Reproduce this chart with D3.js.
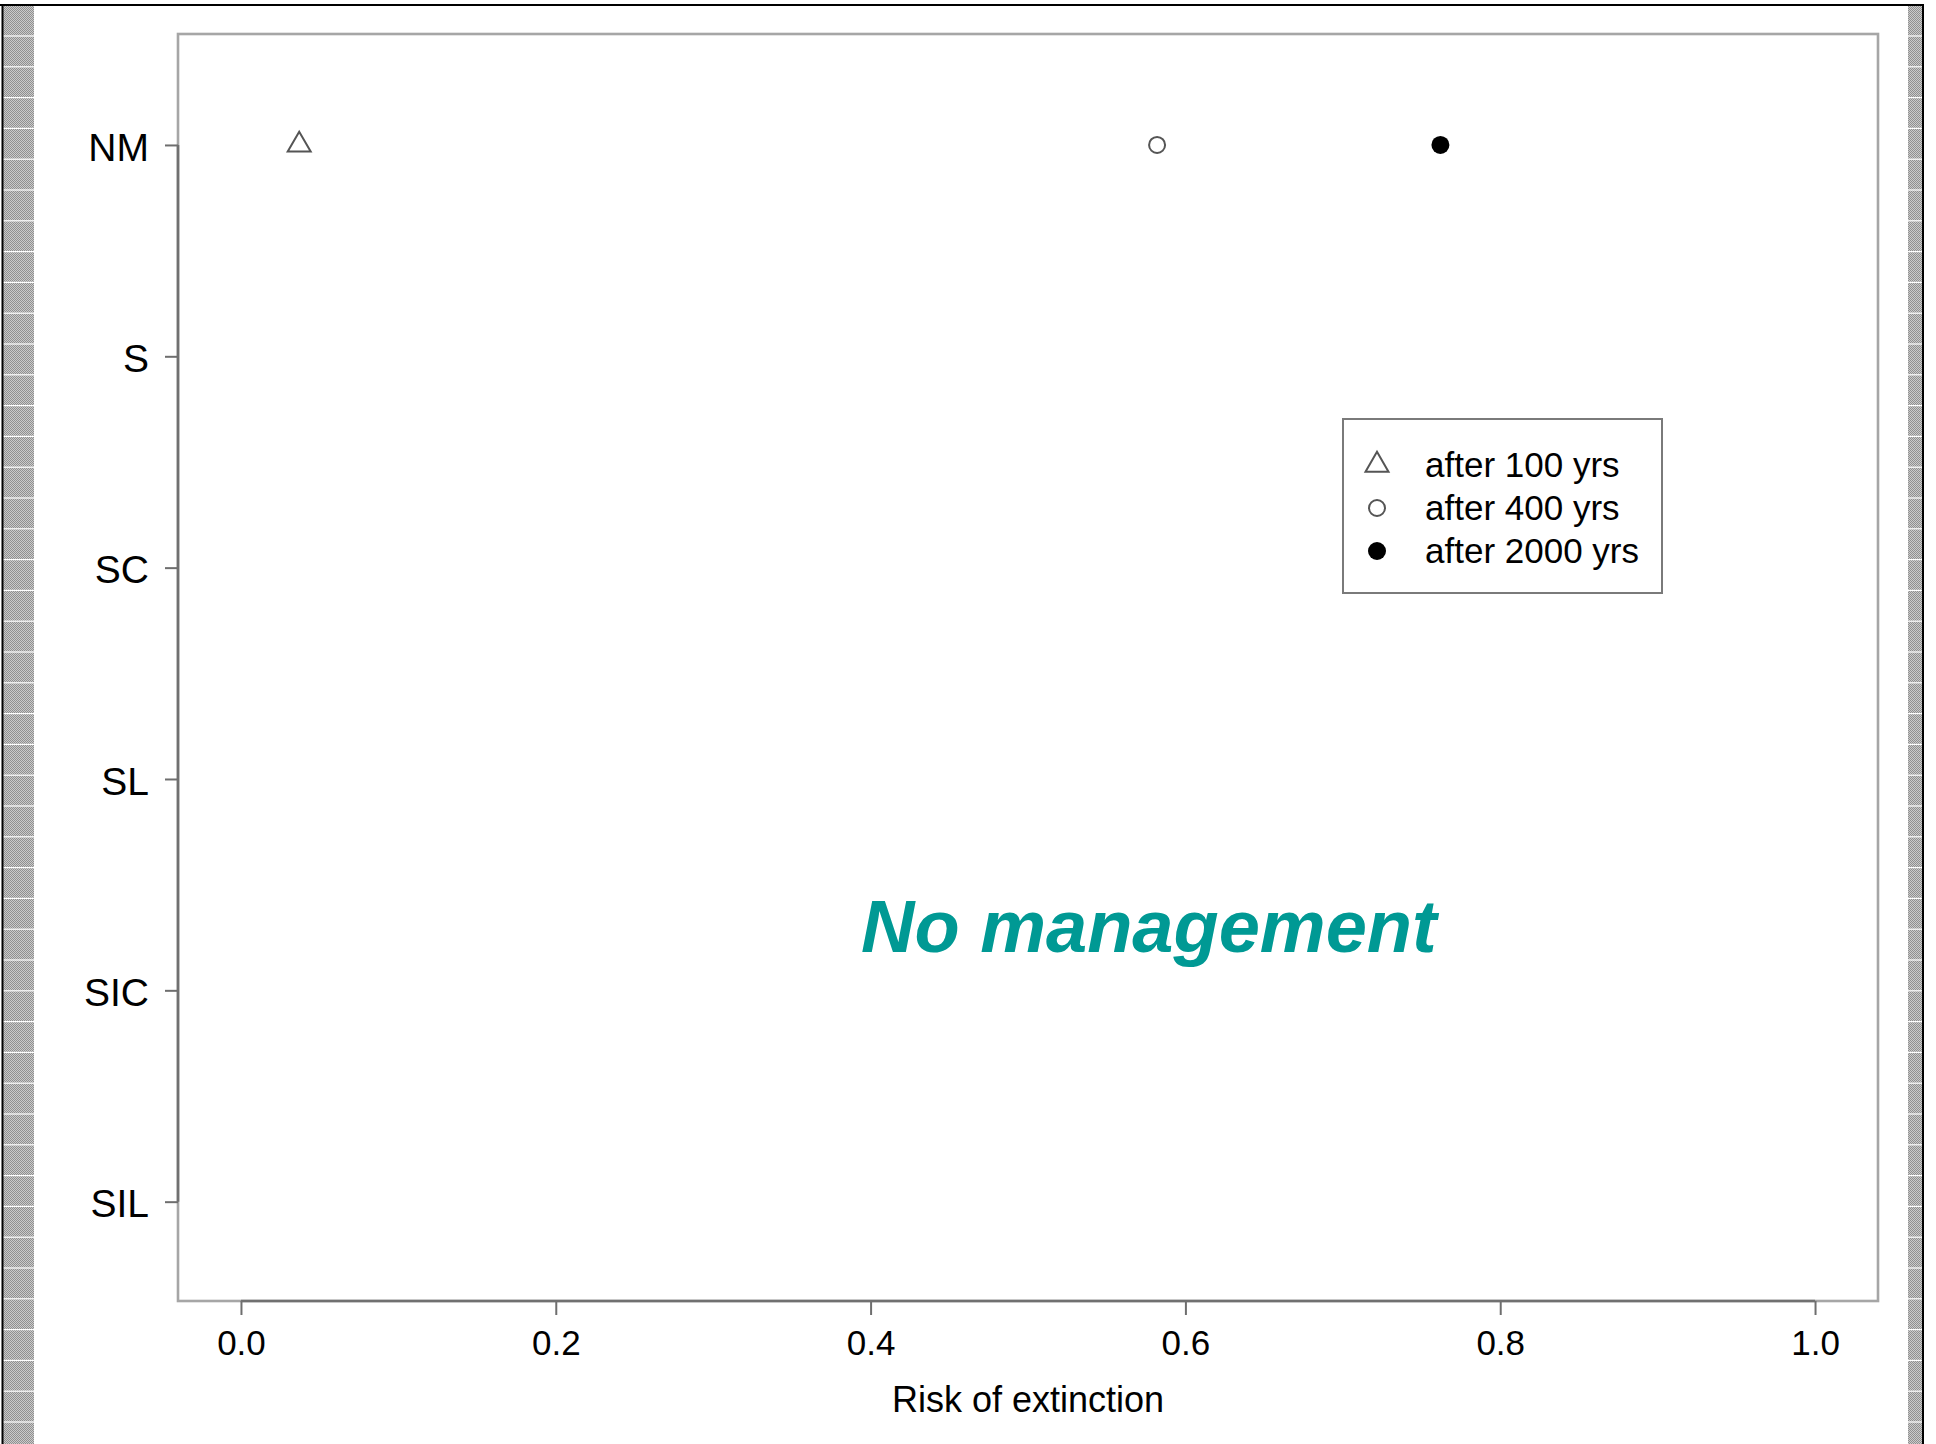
<!DOCTYPE html>
<html>
<head>
<meta charset="utf-8">
<script src="https://cdn.jsdelivr.net/npm/d3@7"></script>
<style>
  html, body { margin: 0; padding: 0; background: #ffffff; }
  svg { display: block; }
  text { font-family: "Liberation Sans", Arial, Helvetica, sans-serif; }
</style>
</head>
<body>
<script>
// ---- data ----
const categories = ["NM", "S", "SC", "SL", "SIC", "SIL"];
const after100  = [0.037, null, null, null, null, null];
const after400  = [0.582, null, null, null, null, null];
const after2000 = [0.762, null, null, null, null, null];
const xTicks = [0, 0.2, 0.4, 0.6, 0.8, 1.0];
const legendLabels = ["after 100 yrs", "after 400 yrs", "after 2000 yrs"];
const titleText = "No management";
const xLabel = "Risk of extinction";

// ---- layout ----
const W = 1936, H = 1444;
const plot = { left: 178, right: 1878, top: 34, bottom: 1301 };

const svg = d3.select("body").append("svg").attr("width", W).attr("height", H);

// slide frame / side stripes
const defs = svg.append("defs");
const pat = defs.append("pattern").attr("id", "dots").attr("width", 2).attr("height", 2)
  .attr("patternUnits", "userSpaceOnUse");
pat.append("rect").attr("width", 2).attr("height", 2).attr("fill", "#cacaca");
pat.append("rect").attr("width", 1).attr("height", 1).attr("fill", "#909090");
pat.append("rect").attr("x", 1).attr("y", 1).attr("width", 1).attr("height", 1).attr("fill", "#909090");

const frame = svg.append("g");
frame.append("rect").attr("x", 3).attr("y", 6).attr("width", 31).attr("height", H - 6).attr("fill", "url(#dots)");
frame.append("rect").attr("x", 1908).attr("y", 6).attr("width", 14).attr("height", H - 6).attr("fill", "url(#dots)");
const stripeLines = d3.range(36, H, 30.8);
frame.selectAll("line.sl").data(stripeLines).join("line")
  .attr("x1", 3).attr("x2", 34).attr("y1", d => d).attr("y2", d => d)
  .attr("stroke", "#ffffff").attr("stroke-width", 1.2);
frame.selectAll("line.sr").data(stripeLines).join("line")
  .attr("x1", 1908).attr("x2", 1922).attr("y1", d => d).attr("y2", d => d)
  .attr("stroke", "#ffffff").attr("stroke-width", 1.2);
frame.append("line").attr("x1", 0).attr("x2", 1924).attr("y1", 5).attr("y2", 5)
  .attr("stroke", "#000").attr("stroke-width", 2);
frame.append("line").attr("x1", 2.5).attr("x2", 2.5).attr("y1", 4).attr("y2", H)
  .attr("stroke", "#000").attr("stroke-width", 2);
frame.append("line").attr("x1", 1923).attr("x2", 1923).attr("y1", 4).attr("y2", H)
  .attr("stroke", "#000").attr("stroke-width", 2);

// ---- scales ----
const x = d3.scaleLinear().domain([-0.04, 1.04]).range([plot.left, plot.right]);
const y = d3.scaleLinear().domain([-0.525, 5.47]).range([plot.top, plot.bottom]);

// plot box
svg.append("rect")
  .attr("x", plot.left).attr("y", plot.top)
  .attr("width", plot.right - plot.left).attr("height", plot.bottom - plot.top)
  .attr("fill", "none").attr("stroke", "#a6a6a6").attr("stroke-width", 2.6);

// x axis
const xAxis = svg.append("g").attr("transform", `translate(0,${plot.bottom})`)
  .call(d3.axisBottom(x).tickValues(xTicks).tickFormat(d3.format(".1f"))
    .tickSize(14).tickSizeOuter(0).tickPadding(15));
xAxis.select(".domain").remove();
xAxis.selectAll(".tick line").attr("stroke", "#6e6e6e").attr("stroke-width", 2);
xAxis.selectAll(".tick text").attr("font-size", 35).attr("fill", "#000")
  .attr("font-family", "Liberation Sans, Arial, sans-serif");
xAxis.append("line").attr("x1", x(xTicks[0])).attr("x2", x(xTicks[xTicks.length - 1]))
  .attr("y1", 0).attr("y2", 0).attr("stroke", "#707070").attr("stroke-width", 2.6);

// y axis
const yIdx = d3.range(categories.length);
const yAxis = svg.append("g").attr("transform", `translate(${plot.left},0)`)
  .call(d3.axisLeft(y).tickValues(yIdx).tickFormat(i => categories[i])
    .tickSize(13).tickSizeOuter(0).tickPadding(16));
yAxis.select(".domain").remove();
yAxis.selectAll(".tick line").attr("stroke", "#6e6e6e").attr("stroke-width", 2);
yAxis.selectAll(".tick text").attr("font-size", 39).attr("fill", "#000")
  .attr("dy", "0.39em").attr("font-family", "Liberation Sans, Arial, sans-serif");
yAxis.append("line").attr("x1", 0).attr("x2", 0)
  .attr("y1", y(0)).attr("y2", y(categories.length - 1))
  .attr("stroke", "#707070").attr("stroke-width", 2.6);

// x label
svg.append("text").attr("x", (plot.left + plot.right) / 2).attr("y", 1412)
  .attr("text-anchor", "middle").attr("font-size", 36).attr("fill", "#000")
  .text(xLabel);

// ---- points ----
const tri = d3.symbol(d3.symbolTriangle, 229);
const pts = svg.append("g");
pts.selectAll("path.t").data(after100.map((v, i) => ({ v, i })).filter(d => d.v != null))
  .join("path").attr("d", tri)
  .attr("transform", d => `translate(${x(d.v)},${y(d.i)})`)
  .attr("fill", "none").attr("stroke", "#555").attr("stroke-width", 2);
pts.selectAll("circle.o").data(after400.map((v, i) => ({ v, i })).filter(d => d.v != null))
  .join("circle").attr("cx", d => x(d.v)).attr("cy", d => y(d.i)).attr("r", 8)
  .attr("fill", "none").attr("stroke", "#555").attr("stroke-width", 2);
pts.selectAll("circle.f").data(after2000.map((v, i) => ({ v, i })).filter(d => d.v != null))
  .join("circle").attr("cx", d => x(d.v)).attr("cy", d => y(d.i)).attr("r", 9)
  .attr("fill", "#000");

// ---- legend ----
const lg = svg.append("g");
lg.append("rect").attr("x", 1343).attr("y", 419).attr("width", 319).attr("height", 174)
  .attr("fill", "#fff").attr("stroke", "#7a7a7a").attr("stroke-width", 2);
const rowY = [465, 508, 551];
lg.append("path").attr("d", tri).attr("transform", `translate(1377,${rowY[0]})`)
  .attr("fill", "none").attr("stroke", "#555").attr("stroke-width", 2);
lg.append("circle").attr("cx", 1377).attr("cy", rowY[1]).attr("r", 8)
  .attr("fill", "none").attr("stroke", "#555").attr("stroke-width", 2);
lg.append("circle").attr("cx", 1377).attr("cy", rowY[2]).attr("r", 9).attr("fill", "#000");
lg.selectAll("text").data(legendLabels).join("text")
  .attr("x", 1425).attr("y", (d, i) => rowY[i] + 12)
  .attr("font-size", 35).attr("fill", "#000").text(d => d);

// ---- annotation ----
svg.append("text").attr("x", 861).attr("y", 952)
  .attr("font-size", 74).attr("font-weight", "bold").attr("font-style", "italic")
  .attr("fill", "#009994").text(titleText);
</script>
</body>
</html>
